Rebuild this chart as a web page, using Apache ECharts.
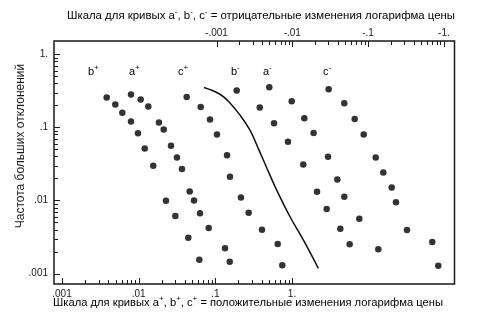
<!DOCTYPE html>
<html><head><meta charset="utf-8">
<script src="https://cdn.jsdelivr.net/npm/echarts@6/dist/echarts.min.js"></script>
<style>html,body{margin:0;padding:0;background:#fff}#c{width:478px;height:320px}</style>
</head><body><div id="c"></div>
<script>
// positive log-price changes (bottom scale)
const bPlusX = [0.00383,0.00496,0.00612,0.00794,0.0098,0.0120,0.0155,0.0227,0.0301,0.0444,0.0618];
const bPlusY = [0.256,0.2055,0.158,0.1204,0.0833,0.0515,0.0298,0.0099,0.00612,0.00309,0.00155];
const aPlusX = [0.00794,0.01063,0.01336,0.0184,0.0212,0.0264,0.0316,0.0367,0.0463,0.0527,0.0631,0.0819,0.1337,0.154];
const aPlusY = [0.2814,0.2405,0.193,0.1166,0.0936,0.0559,0.0388,0.0269,0.0133,0.0100,0.00667,0.0042,0.00222,0.001455];
const cPlusX = [0.0423,0.0645,0.0852,0.105,0.142,0.1553,0.216,0.272,0.406,0.651,0.747];
const cPlusY = [0.261,0.1906,0.128,0.080,0.0417,0.0211,0.0110,0.00679,0.00398,0.00254,0.0013];
// negative log-price changes (top scale)
const bMinusX = [-0.001846,-0.00372,-0.00574,-0.00877,-0.01396,-0.0212,-0.0284,-0.0430,-0.0571];
const bMinusY = [0.319,0.187,0.1141,0.0634,0.0311,0.01315,0.00763,0.0041,0.00251];
const aMinusX = [-0.00497,-0.00982,-0.0144,-0.0191,-0.0296,-0.0393,-0.0485,-0.0766,-0.1364];
const aMinusY = [0.354,0.228,0.1336,0.0841,0.0395,0.0194,0.01124,0.00562,0.00215];
const cMinusX = [-0.0302,-0.0485,-0.0665,-0.0875,-0.126,-0.1587,-0.2047,-0.2333,-0.326,-0.703,-0.843];
const cMinusY = [0.3326,0.214,0.1306,0.080,0.0388,0.0242,0.0151,0.00942,0.00394,0.0027,0.00128];
// theoretical curve (bottom scale)
const curveX = [0.0711,0.115,0.155,0.210,0.283,0.3712,0.472,0.631,0.942,1.404,2.203];
const curveY = [0.351,0.284,0.216,0.147,0.0916,0.0488,0.0274,0.01387,0.00599,0.00288,0.00118];
// tick labels
const xTickValues = [0.001,0.01,0.1,1];
const xTickLabels = ['.001','.01','.1','1.'];
const topTickLabels = ['-.001','-.01','-.1','-1.'];
const yTickValues = [0.001,0.01,0.1,1];
const yTickLabels = ['.001','.01','.1','1.'];

const FONT = "'Liberation Sans', Arial, sans-serif";
const INK = '#1a1a1a';
const X_MIN = Math.pow(10,-3.104), X_MAX = Math.pow(10,2.119);
const T_MIN = Math.pow(10,-5.144), T_MAX = Math.pow(10,0.140);
const Y_MIN = Math.pow(10,-3.143), Y_MAX = Math.pow(10,0.182);

function minors(majors){
  const out=[];
  for(let i=0;i<majors.length-1;i++) for(let k=2;k<=9;k++) out.push(+(majors[i]*k).toPrecision(6));
  return out;
}
function fmt(values, labels){
  return function(v){
    const i = values.findIndex(t => Math.abs(Math.log10(t)-Math.log10(v))<1e-6);
    return i>=0 ? labels[i] : '';
  };
}
function logAxis(extra){
  return Object.assign({
    type:'log', axisLine:{show:false}, axisTick:{show:false},
    splitLine:{show:false}, minorTick:{show:false}, minorSplitLine:{show:false}
  }, extra);
}
const labelStyle = {color:INK, fontSize:10, fontFamily:FONT};

const xAxes = [
  logAxis({position:'bottom', min:X_MIN, max:X_MAX,
    axisLabel:Object.assign({margin:5, customValues:xTickValues, formatter:fmt(xTickValues,xTickLabels)}, labelStyle)}),
  logAxis({position:'top', min:T_MIN, max:T_MAX,
    axisLabel:Object.assign({margin:3, customValues:xTickValues, formatter:fmt(xTickValues,topTickLabels)}, labelStyle)})
];
const yAxes = [
  logAxis({position:'left', min:Y_MIN, max:Y_MAX,
    axisLabel:Object.assign({margin:6, customValues:yTickValues, formatter:fmt(yTickValues,yTickLabels)}, labelStyle)})
];

function pts(xs, ys){ return xs.map((x,i)=>[Math.abs(x), ys[i]]); }
function dots(name, xs, ys, xi){
  return {name, type:'scatter', xAxisIndex:xi, yAxisIndex:0, data:pts(xs,ys),
    symbol:'circle', symbolSize:6.5, itemStyle:{color:'#000'}, silent:true, z:5};
}

function rich(size){
  return {
    t:{fontSize:size, fontFamily:FONT, color:INK, lineHeight:16},
    s:{fontSize:8, fontFamily:FONT, color:INK, lineHeight:8, verticalAlign:'top'}
  };
}
function curveLabel(txt, sign, x){
  return {type:'text', x:x, y:71.5, style:{text:'{t|'+txt+'}{s|'+sign+'}', rich:rich(11), align:'left', verticalAlign:'middle'}};
}
const textGraphics = [
  {type:'text', x:261, y:16, style:{align:'center', verticalAlign:'middle',
    text:'{t|Шкала для кривых a}{s|-}{t|, b}{s|-}{t|, c}{s|-}{t| = отрицательные изменения логарифма цены}', rich:rich(11.4)}},
  {type:'text', x:248, y:303, style:{align:'center', verticalAlign:'middle',
    text:'{t|Шкала для кривых a}{s|+}{t|, b}{s|+}{t|, c}{s|+}{t| = положительные изменения логарифма цены}', rich:rich(11.2)}},
  {type:'text', x:21, y:146, rotation:Math.PI/2, style:{align:'center', verticalAlign:'middle',
    text:'Частота больших отклонений', font:'12px '+FONT, fill:INK}},
  curveLabel('b','+',88), curveLabel('a','+',129), curveLabel('c','+',178),
  curveLabel('b','-',231), curveLabel('a','-',263), curveLabel('c','-',323)
];

const chart = echarts.init(document.getElementById('c'), null, {renderer:'canvas'});
let errMsg = '';
try {
  chart.setOption({
    animation:false,
    grid:{left:54, top:41, width:400.5, height:243, show:true, borderColor:INK, borderWidth:1.5},
    xAxis:xAxes,
    yAxis:yAxes,
    series:[
      dots('b+', bPlusX, bPlusY, 0),
      dots('a+', aPlusX, aPlusY, 0),
      dots('c+', cPlusX, cPlusY, 0),
      dots('b-', bMinusX, bMinusY, 1),
      dots('a-', aMinusX, aMinusY, 1),
      dots('c-', cMinusX, cMinusY, 1),
      {name:'curve', type:'line', xAxisIndex:0, yAxisIndex:0, data:pts(curveX,curveY), smooth:0.4,
       showSymbol:false, lineStyle:{color:'#111', width:1.5}, silent:true, z:4}
    ]
  });
} catch(e) { errMsg += 'A:' + e.message + ' '; }

// tick marks: positions come from the axes' own scales via convertToPixel
const tickEls = [];
try {
  const px = (axis, v) => chart.convertToPixel(axis, v);
  const yBottom = px({yAxisIndex:0}, Y_MIN), yTop = px({yAxisIndex:0}, Y_MAX);
  const xLeft = px({xAxisIndex:0}, X_MIN);
  const crisp = v => Math.round(v) + 0.5;
  const line = (x1,y1,x2,y2) => tickEls.push({type:'line', z:100, silent:true,
    shape:{x1,y1,x2,y2}, style:{stroke:INK, lineWidth:1}});
  const sets = [[minors(xTickValues),4],[xTickValues,6]];
  sets.forEach(([vals,len]) => vals.forEach(v => {
    const xb = crisp(px({xAxisIndex:0}, v));
    line(xb, yBottom, xb, yBottom - len);
    const xt = crisp(px({xAxisIndex:1}, v));
    line(xt, yTop, xt, yTop + len);
  }));
  [[minors(yTickValues),4],[yTickValues,6]].forEach(([vals,len]) => vals.forEach(v => {
    const y = crisp(px({yAxisIndex:0}, v));
    line(xLeft, y, xLeft + len, y);
  }));
} catch(e) { errMsg += 'B:' + e.message + ' '; }

const extra = errMsg ? [{type:'text', x:300, y:314, style:{text:errMsg, font:'6px sans-serif', fill:'#c00'}}] : [];
try {
  chart.setOption({graphic: textGraphics.concat(tickEls, extra)});
} catch(e) {}
</script></body></html>
